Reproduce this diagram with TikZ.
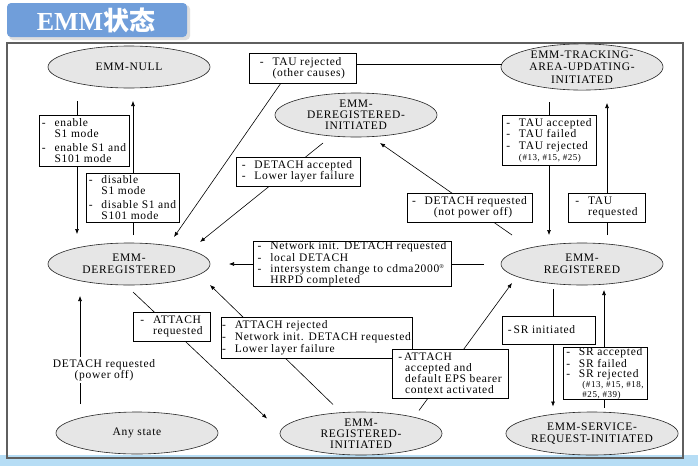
\documentclass[tikz,border=0pt]{standalone}
\usepackage{fontspec}
\setmainfont{Liberation Serif}
\newfontfamily\dg[LetterSpace=6]{Liberation Serif}
\newfontfamily\cjk{Noto Sans CJK SC}
\usetikzlibrary{shapes.geometric,arrows.meta,calc}
\definecolor{titleblue}{RGB}{112,158,218}
\definecolor{bandblue}{RGB}{182,221,245}
\definecolor{stategray}{RGB}{230,230,230}
\definecolor{framegray}{RGB}{95,95,95}
\newcommand\dsh{\makebox[1.1em][l]{-}}
\newcommand\dind{\hspace*{1.1em}}
\newcommand\smallnum{\fontsize{9}{10}\selectfont}
\begin{document}
\begin{tikzpicture}[x=1pt,y=-1pt,
  state/.style={ellipse, draw=black!85, line width=0.6pt, fill=stategray,
    minimum width=162pt, minimum height=42pt, inner sep=0pt, align=center,
    font=\dg\fontsize{11.5}{11.5}\selectfont},
  lbl/.style={draw=black, line width=0.6pt, fill=white, align=left,
    inner xsep=2pt, inner ysep=0pt, font=\dg\fontsize{11.5}{11}\selectfont},
  conn/.style={line width=0.6pt, draw=black},
  arr/.style={conn, -{Latex[length=5pt,width=4pt]}},
]
\useasboundingbox (0,0) rectangle (698,466);
\fill[white] (0,0) rectangle (698,466);
% bottom band and frame
\fill[bandblue] (0,455) rectangle (698,466);
\draw[framegray, line width=1.2pt] (7,43) rectangle (683,458);
% title
\fill[gray!25, rounded corners=4pt] (9,5) rectangle (190,40);
\fill[titleblue, rounded corners=4pt] (7,3) rectangle (187,37);
\node[text=white, font=\fontsize{26}{26}\selectfont\bfseries, inner sep=0pt] (title) at (96,20) {EMM{\cjk 状态}};

% states
\node[state] (null) at (129,67) {EMM-NULL};
\node[state, minimum height=43pt, font=\dg\fontsize{11.5}{12.5}\selectfont] (tau) at (582,67) {EMM-TRACKING-\\AREA-UPDATING-\\INITIATED};
\node[state, minimum height=44pt, font=\dg\fontsize{11.5}{11}\selectfont] (dereginit) at (356,115) {EMM-\\DEREGISTERED-\\INITIATED};
\node[state] (dereg) at (129,264) {EMM-\\DEREGISTERED};
\node[state] (reg) at (582,264) {EMM-\\REGISTERED};
\node[state] (any) at (137,433) {Any state};
\node[state, minimum height=43pt, font=\dg\fontsize{11.5}{11}\selectfont] (reginit) at (361,433.5) {EMM-\\REGISTERED-\\INITIATED};
\node[state, minimum height=43pt] (sri) at (592,433.5) {EMM-SERVICE-\\REQUEST-INITIATED};

% connectors
\draw[arr] ($(null)+(-52,34)$) -- ($(dereg)+(-52,-30)$);
\draw[arr] ($(dereg)+(4,-29)$) -- ($(null)+(4,34)$);
\draw[conn] ($(tau)+(-80,-3)$) -- ($(null)+(227,-3)$);
\draw[arr] ($(null)+(152,16)$) -- ($(dereg)+(45,-27)$);
\draw[arr] ($(dereginit)+(-33,28)$) -- ($(dereg)+(71,-22)$);
\draw[arr] ($(reg)+(-70,-29)$) -- ($(dereginit)+(24,28)$);
\draw[arr] ($(tau)+(-33,35)$) -- ($(reg)+(-33,-29)$);
\draw[arr] ($(reg)+(25,-29)$) -- ($(tau)+(25,36)$);
\draw[arr] ($(reg)+(-98,0)$) -- ($(dereg)+(100,0)$);
\draw[arr] ($(any)+(-57,-29)$) -- ($(dereg)+(-49,32)$);
\draw[arr] ($(dereg)+(4,28)$) -- ($(reginit)+(-94,-15)$);
\draw[arr] ($(reginit)+(-28,-29)$) -- ($(dereg)+(81,21)$);
\draw[arr] ($(reginit)+(58,-23)$) -- ($(reg)+(-70,19)$);
\draw[arr] ($(reg)+(-29,25)$) -- ($(sri)+(-39,-27)$);
\draw[arr] ($(sri)+(12,-26)$) -- ($(reg)+(22,26)$);

% labels
\node[lbl, minimum width=107pt, minimum height=30pt] (tauother) at (302.5,68)
  {\dsh TAU rejected\\\dind (other causes)};
\node[lbl, minimum width=90pt, minimum height=51pt] (enable) at (84,140.5)
  {\dsh enable\\\dind S1 mode\\[3pt]\dsh enable S1 and\\\dind S101 mode};
\node[lbl, minimum width=93pt, minimum height=49pt] (disable) at (132.5,197.5)
  {\dsh disable\\\dind S1 mode\\[3pt]\dsh disable S1 and\\\dind S101 mode};
\node[lbl, minimum width=124pt, minimum height=29pt] (detacc) at (298,171.5)
  {\dsh DETACH accepted\\\dsh Lower layer failure};
\node[lbl, minimum width=94pt, minimum height=50pt] (tauacc) at (549,140)
  {\dsh TAU accepted\\\dsh TAU failed\\[1pt]\dsh TAU rejected\\\dind{\smallnum(\#13, \#15, \#25)}};
\node[lbl, minimum width=125pt, minimum height=29pt] (detreq) at (469.5,207.5)
  {\dsh DETACH requested\\\dind\hspace*{0.8em}(not power off)};
\node[lbl, minimum width=77pt, minimum height=29pt] (taureq) at (606.5,207.5)
  {\dsh TAU\\\dind requested};
\node[lbl, minimum width=198pt, minimum height=44pt] (netinit) at (352,264)
  {\dsh Network init. DETACH requested\\[1pt]\dsh local DETACH\\\dsh intersystem change to cdma2000\textsuperscript{\fontsize{6}{6}\selectfont ®}\\\dind HRPD completed};
\node[lbl, minimum width=77pt, minimum height=29pt] (attreq) at (171.5,326.5)
  {\dsh ATTACH\\\dind requested};
\node[fill=white, align=center, inner xsep=1pt, inner ysep=2pt, font=\dg\fontsize{11.5}{11}\selectfont] (poweroff) at (104,370)
  {DETACH requested\\(power off)};
\node[lbl, minimum width=191pt, minimum height=41pt, inner xsep=1pt] (attrej) at (316.5,337.5)
  {\dsh ATTACH rejected\\[1pt]\dsh Network init. DETACH requested\\[1pt]\dsh Lower layer failure};
\node[lbl, minimum width=116pt, minimum height=49pt] (attacc) at (450,373.5)
  {-\,ATTACH\\\hspace*{0.6em}accepted and\\\hspace*{0.6em}default EPS bearer\\\hspace*{0.6em}context activated};
\node[lbl, minimum width=93pt, minimum height=28pt] (srinit) at (548.5,330)
  {-\,SR initiated\hspace*{1.2em}};
\node[lbl, minimum width=84pt, minimum height=49pt, inner xsep=1pt, font=\dg\fontsize{11.5}{10}\selectfont] (sracc) at (605,373.5)
  {\dsh SR accepted\\\dsh SR failed\\\dsh SR rejected\\\hspace*{1.4em}{\smallnum(\#13, \#15, \#18,}\\\hspace*{1.4em}{\smallnum\#25, \#39)}};
\end{tikzpicture}
\end{document}
